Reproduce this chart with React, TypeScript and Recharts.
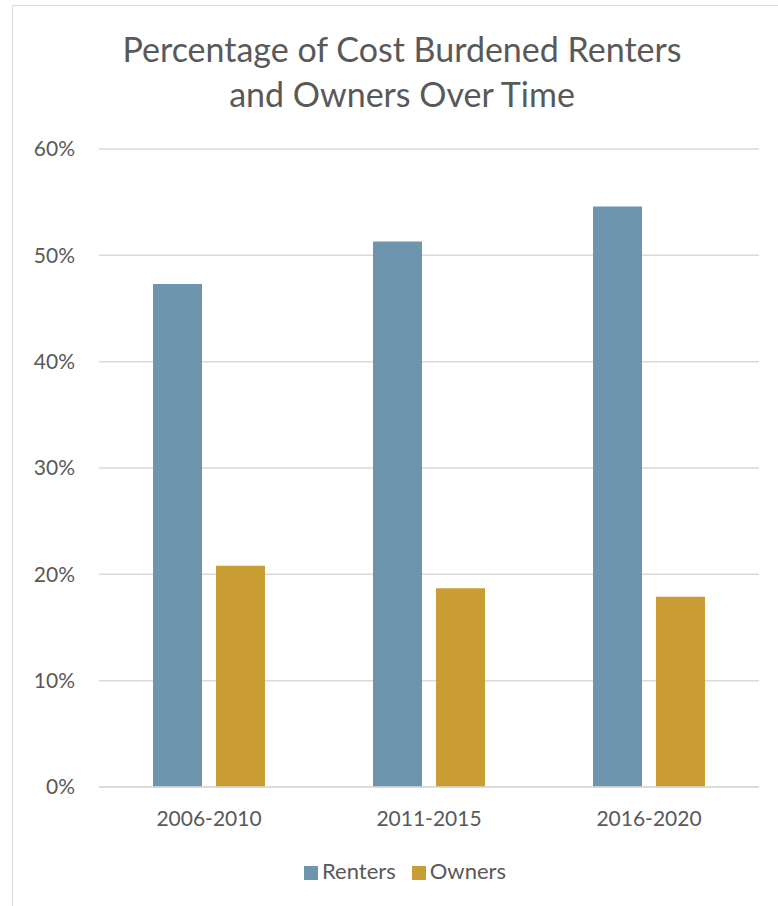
import {
    BarChart,
    Bar,
    XAxis,
    YAxis,
    CartesianGrid,
    Legend
} from "recharts";

const periods = ["2006-2010", "2011-2015", "2016-2020"];
const renters = [47.3, 51.3, 54.6];
const owners = [20.8, 18.7, 17.9];
const yTicks = [0, 10, 20, 30, 40, 50, 60];
const seriesOrder = ["Renters", "Owners"];

const chartData = periods.map((period, i) => ({
    period,
    Renters: renters[i],
    Owners: owners[i]
}));

const textColor = "#595959";
const fontFamily = "Lato, 'Open Sans', sans-serif";

export default function App() {

    return (

        <div
            style={{
                position: "fixed",
                top: 0,
                left: 0,
                width: 778,
                height: 906,
                overflow: "hidden",
                background: "#ffffff",
                fontFamily
            }}
        >

            {/* frame: only the left and top edges show in the picture */}
            <div
                style={{
                    position: "absolute",
                    left: 12,
                    top: 5,
                    width: 900,
                    height: 1000,
                    border: "1px solid #d9d9d9",
                    boxSizing: "border-box"
                }}
            />

            <div
                style={{
                    position: "absolute",
                    left: 0,
                    top: 26,
                    width: 804,
                    textAlign: "center",
                    fontSize: 34,
                    lineHeight: "45px",
                    color: textColor
                }}
            >
                Percentage of Cost Burdened Renters
                <br />
                and Owners Over Time
            </div>

            <div style={{ position: "absolute", left: 0, top: 0 }}>

                <BarChart
                    width={778}
                    height={906}
                    data={chartData}
                    margin={{ top: 149, right: 19, left: 0, bottom: 32 }}
                    barGap={14}
                    barSize={49}
                >

                    <CartesianGrid
                        vertical={false}
                        stroke="#d9d9d9"
                        strokeWidth={1.5}
                    />

                    <XAxis
                        dataKey="period"
                        height={60}
                        tickLine={false}
                        tickSize={0}
                        tickMargin={24}
                        axisLine={{ stroke: "#d9d9d9", strokeWidth: 1.5 }}
                        tick={{ fill: textColor, fontSize: 21, fontFamily }}
                    />

                    <YAxis
                        width={99}
                        domain={[0, 60]}
                        ticks={yTicks}
                        tickFormatter={(v) => `${v}%`}
                        axisLine={false}
                        tickLine={false}
                        tickSize={0}
                        tickMargin={24}
                        tick={{ fill: textColor, fontSize: 21, fontFamily }}
                    />

                    <Legend
                        iconType="square"
                        iconSize={14}
                        itemSorter={(item) => seriesOrder.indexOf(String(item.dataKey))}
                        wrapperStyle={{ left: 4, width: 812, top: 857, fontSize: 22, fontFamily }}
                        formatter={(value) => (
                            <span
                                style={{
                                    color: textColor,
                                    marginRight: value === "Renters" ? 6 : 0
                                }}
                            >
                                {value}
                            </span>
                        )}
                    />

                    <Bar
                        dataKey="Renters"
                        fill="#6d96ae"
                        isAnimationActive={false}
                    />

                    <Bar
                        dataKey="Owners"
                        fill="#ca9c34"
                        isAnimationActive={false}
                    />

                </BarChart>

            </div>

        </div>

    );
}
